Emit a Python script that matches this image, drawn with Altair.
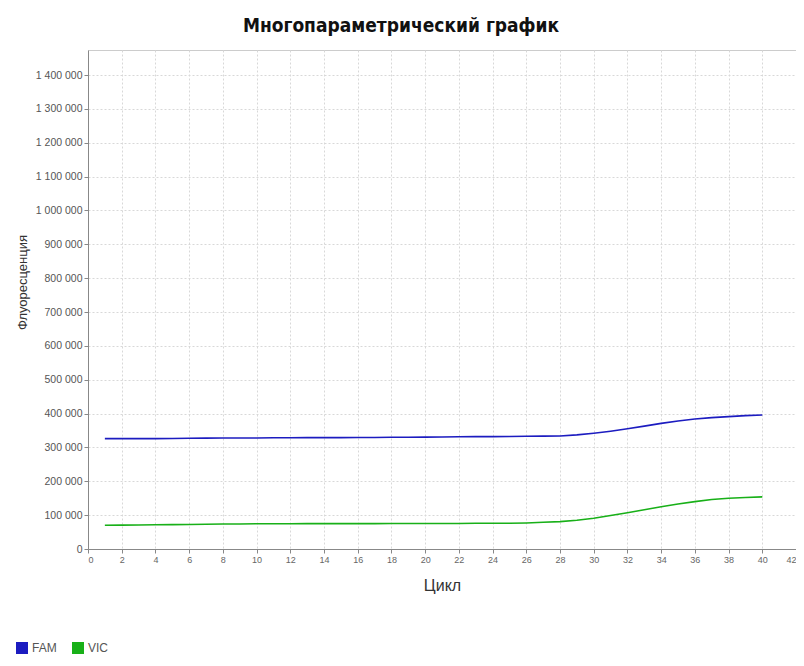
import altair as alt
import pandas as pd

cycles = list(range(1, 41))
fam = [326000, 326000, 326000, 326000, 326500, 327000, 327500, 328000, 328000, 328000,
       328500, 328500, 329000, 329000, 329000, 329500, 329500, 330000, 330000, 330500,
       331000, 331500, 332000, 332000, 332500, 333000, 333500, 334000, 337000, 342000,
       348000, 355000, 363000, 371000, 378000, 384000, 388000, 391000, 394000, 396000]
vic = [70000, 70500, 71000, 71500, 72000, 72500, 73000, 74000, 74000, 74500,
       74500, 74500, 75000, 75000, 75000, 75000, 75000, 75500, 75500, 75500,
       75500, 75500, 76000, 76000, 76000, 77000, 79000, 81000, 85000, 91000,
       99000, 107000, 116000, 125000, 133000, 140000, 146000, 150000, 152000, 154000]
series = ["FAM", "VIC"]
colors = ["#1c1cc0", "#18b018"]
x_ticks = list(range(0, 43, 2))
y_ticks = list(range(0, 1400001, 100000))

df = pd.DataFrame({
    "Цикл": cycles * 2,
    "value": fam + vic,
    "series": ["FAM"] * len(cycles) + ["VIC"] * len(cycles),
})

chart = alt.Chart(df).mark_line(strokeWidth=1.6).encode(
    x=alt.X("Цикл:Q",
            scale=alt.Scale(domain=[0, 42], nice=False),
            axis=alt.Axis(values=x_ticks, title="Цикл", titleFontSize=16,
                          titleFontWeight="normal", titlePadding=13,
                          labelFontSize=9, labelColor="#666666")),
    y=alt.Y("value:Q",
            scale=alt.Scale(domain=[0, 1474000], nice=False),
            axis=alt.Axis(values=y_ticks, title="Флуоресценция", titleFontSize=13,
                          titleFontWeight="normal", titleX=-59, titleY=232,
                          labelFontSize=10.5, labelColor="#555555",
                          labelExpr="replace(format(datum.value, ','), regexp(',', 'g'), ' ')")),
    color=alt.Color("series:N",
                    scale=alt.Scale(domain=series, range=colors),
                    legend=alt.Legend(title=None, orient="none", direction="horizontal",
                                      legendX=-72, legendY=592, symbolType="square",
                                      symbolSize=36, symbolStrokeWidth=6,
                                      labelFontSize=12, labelColor="#555555",
                                      columnPadding=6, labelOffset=4)),
).properties(
    width=708,
    height=499,
    title=alt.TitleParams("Многопараметрический график", fontSize=19,
                          font="DejaVu Sans Condensed", fontWeight="bold",
                          anchor="middle", offset=14, dx=-41, color="#111111"),
    autosize=alt.AutoSizeParams(type="none"),
    padding={"left": 80, "top": 42, "right": 0, "bottom": 108},
).configure(
    font="Liberation Sans",
).configure_axis(
    grid=True,
    gridColor="#d8d8d8",
    gridDash=[2, 2],
    domainColor="#888888",
    tickColor="#888888",
    tickSize=4,
    titleColor="#333333",
    titleFont="Liberation Sans",
    labelFont="Liberation Sans",
).configure_view(
    stroke="#cccccc",
)

chart.save("out.html", embed_options={"renderer": "svg", "actions": False})
